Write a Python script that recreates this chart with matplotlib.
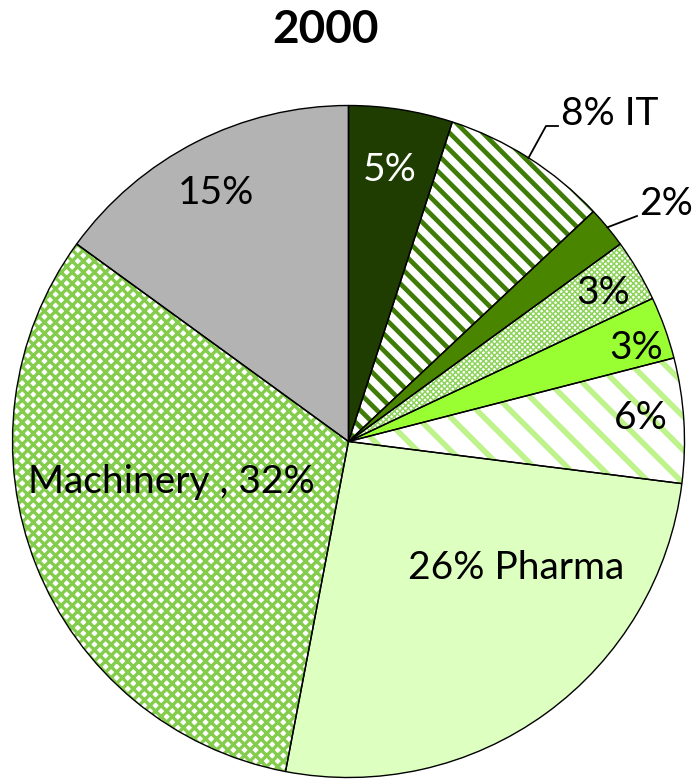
import numpy as np
import matplotlib
matplotlib.use("Agg")
import matplotlib.pyplot as plt

plt.rcParams['font.family'] = ['Lato', 'DejaVu Sans']
plt.rcParams['hatch.linewidth'] = 2.4

title = "2000"
sectors = ["Sector A", "IT", "Sector C", "Sector D", "Sector E", "Sector F", "Pharma", "Machinery", "Other"]
shares = [5, 8, 2, 3, 3, 6, 26, 32, 15]
labels = ["5%", "8% IT", "2%", "3%", "3%", "6%", "26% Pharma", "Machinery , 32%", "15%"]

faces = ['#1f3d00', 'white', '#4a8500', 'white', '#99ff33', 'white', '#ddffc0', 'white', '#b3b3b3']
hatches = [None, '\\\\', None, 'xxxxxx', None, '\\', None, 'xxx', None]
hcolors = ['#1f3d00', '#3f7d08', '#4a8500', '#8ed45c', '#99ff33', '#bdf38a', '#ddffc0', '#84cc4c', '#b3b3b3']
hwidths = [1, 3.4, 1, 1.1, 1, 4.0, 1, 2.4, 1]

W, H = 698, 781
fig = plt.figure(figsize=(W / 100, H / 100), dpi=100)
ax = fig.add_axes([0, 0, 1, 1])

cx, cy, R = 348.5, H - 441.5, 336

wedges, _ = ax.pie(shares, startangle=90, counterclock=False, center=(cx, cy),
                   radius=R, frame=True)
for w, fc, h, hc, hw in zip(wedges, faces, hatches, hcolors, hwidths):
    w.set_facecolor(fc)
    w.set_edgecolor(hc)
    w.set_linewidth(0)
    if h:
        w.set_hatch(h)
        if hasattr(w, 'set_hatch_linewidth'):
            w.set_hatch_linewidth(hw)
        else:
            w._hatch_linewidth = hw
outline, _ = ax.pie(shares, startangle=90, counterclock=False, center=(cx, cy),
                    radius=R, frame=True,
                    wedgeprops=dict(facecolor='none', edgecolor='black', linewidth=1.0))
ax.set_xlim(0, W)
ax.set_ylim(0, H)
ax.set_aspect('equal')
ax.axis('off')

fs = 28
# in-slice labels (pixel positions)
pos = {0: (390, 170), 3: (603, 293), 4: (636, 348), 5: (641, 418),
       6: (516, 568), 7: (171, 482), 8: (216, 193)}
for i, (x, y) in pos.items():
    ax.text(x, H - y, labels[i], ha='center', va='center', fontsize=fs,
            color='white' if i == 0 else 'black')

# outside labels with leader lines
def mid_angle(w):
    return np.deg2rad((w.theta1 + w.theta2) / 2)

a = mid_angle(wedges[1])
ax.plot([cx + R * np.cos(a), 546, 558], [cy + R * np.sin(a), H - 126, H - 126],
        color='black', lw=1.3)
ax.text(561, H - 125, labels[1], ha='left', va='baseline', fontsize=fs)

a = mid_angle(wedges[2])
ax.plot([cx + R * np.cos(a), 637], [cy + R * np.sin(a), H - 216],
        color='black', lw=1.3)
ax.text(639, H - 215, labels[2], ha='left', va='baseline', fontsize=fs)

ax.text(325, H - 30, title, ha='center', va='center', fontsize=33, fontweight='bold')

fig.savefig("out.png", dpi=100)
